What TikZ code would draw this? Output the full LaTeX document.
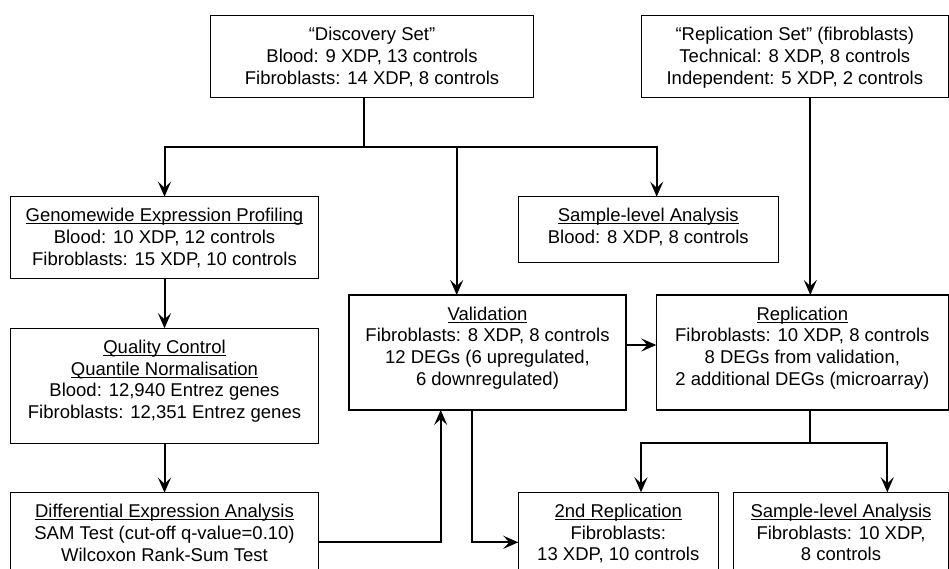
\documentclass[tikz,border=0pt]{standalone}
\usepackage{fontspec}
\setmainfont{Liberation Sans}
\usetikzlibrary{arrows.meta}
\newcommand\myul[1]{\leavevmode\setbox0\hbox{#1}\rlap{\rule[-2.6pt]{\wd0}{0.9pt}}\box0}
\newcommand\mybox[3]{\parbox[c][#2][t]{#1}{\centering\vspace*{11pt}\rule{0pt}{14pt}#3\par}}
\tikzset{arrtip/.tip={Stealth[length=15pt,width=13pt,inset=6pt]}}
\begin{document}
\begin{tikzpicture}[x=1pt,y=-1pt,
  box/.style={draw, line width=1.3pt, inner sep=0pt, outer sep=0pt, anchor=north west,
    font=\fontsize{18.5}{21.7}\selectfont},
  conn/.style={line width=2pt},
  arr/.style={conn, -arrtip}]
\useasboundingbox (0,0) rectangle (949,569);
\clip (0,0) rectangle (949,569);
\fill[white] (0,0) rectangle (949,569);

\node[box] (disc) at (210.7,15.7) {\mybox{322.6pt}{82pt}{“Discovery Set”\\Blood: 9 XDP, 13 controls\\Fibroblasts: 14 XDP, 8 controls}};
\node[box] (repset) at (641.3,15.7) {\mybox{307pt}{82pt}{“Replication Set” (fibroblasts)\\Technical: 8 XDP, 8 controls\\Independent: 5 XDP, 2 controls}};
\node[box] (genome) at (10.7,196.7) {\mybox{307.6pt}{82pt}{\myul{Genomewide Expression Profiling}\\Blood: 10 XDP, 12 controls\\Fibroblasts: 15 XDP, 10 controls}};
\node[box] (samp1) at (518.3,196.7) {\mybox{260pt}{65.6pt}{\myul{Sample-level Analysis}\\Blood: 8 XDP, 8 controls}};
\node[box] (qc) at (10.7,328.3) {\mybox{307.6pt}{115pt}{\myul{Quality Control}\\\myul{Quantile Normalisation}\\Blood: 12,940 Entrez genes\\Fibroblasts: 12,351 Entrez genes}};
\node[box] (diff) at (10.7,492.7) {\mybox{307.6pt}{90pt}{\myul{Differential Expression Analysis}\\SAM Test (cut-off q-value=0.10)\\Wilcoxon Rank-Sum Test}};
\node[box] (valid) at (349,295) {\mybox{277pt}{115pt}{\myul{Validation}\\Fibroblasts: 8 XDP, 8 controls\\12 DEGs (6 upregulated,\\6 downregulated)}};
\node[box] (repl) at (656.3,295) {\mybox{292pt}{115pt}{\myul{Replication}\\Fibroblasts: 10 XDP, 8 controls\\8 DEGs from validation,\\2 additional DEGs (microarray)}};
\node[box] (rep2) at (518.3,492.3) {\mybox{200pt}{90pt}{\myul{2nd Replication}\\Fibroblasts:\\13 XDP, 10 controls}};
\node[box] (samp2) at (733.7,492.3) {\mybox{214.6pt}{90pt}{\myul{Sample-level Analysis}\\Fibroblasts: 10 XDP,\\8 controls}};

\coordinate (j1) at (364.3,146.7);
\coordinate (xa) at (456.7,0);
\coordinate (xs) at (656.7,0);
\coordinate (xr) at (810.3,0);
\coordinate (ry) at (0,345);
\coordinate (d1) at (440.7,542.3);
\coordinate (d2) at (471.7,542.3);
\coordinate (j2) at (810.3,443.3);
\coordinate (x2) at (641,0);
\coordinate (x3) at (887.3,0);

\draw[conn] (disc.south -| j1) -- (j1);
\draw[arr] (j1) -| (genome.north);
\draw[arr] (j1) -| (valid.north -| xa);
\draw[arr] (j1) -| (samp1.north -| xs);
\draw[arr] (repset.south -| xr) -- (repl.north -| xr);
\draw[arr] (genome) -- (qc);
\draw[arr] (qc) -- (diff);
\draw[arr] (valid.east |- ry) -- (repl.west |- ry);
\draw[arr] (diff.east |- d1) -| (valid.south -| d1);
\draw[arr] (valid.south -| d2) |- (rep2.west |- d2);
\draw[conn] (repl.south -| j2) -- (j2);
\draw[arr] (j2) -| (rep2.north -| x2);
\draw[arr] (j2) -| (samp2.north -| x3);
\end{tikzpicture}
\end{document}
